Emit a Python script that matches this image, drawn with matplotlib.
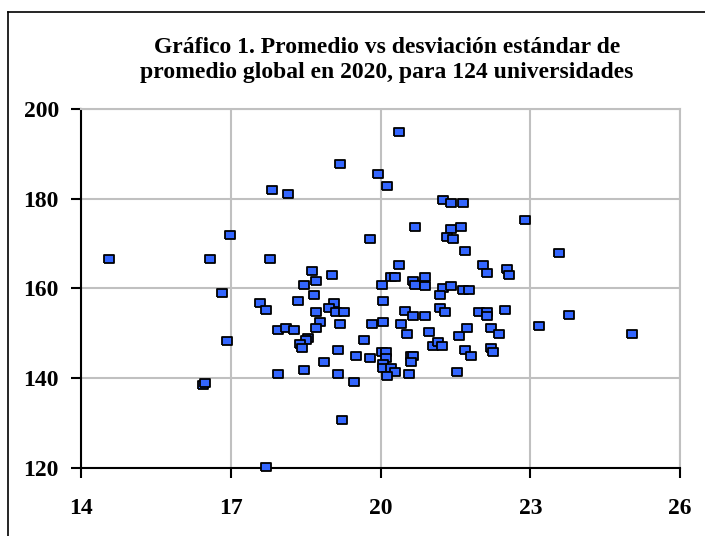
"""Scatter: promedio vs desviacion estandar de promedio global 2020 (124 universidades)."""

import matplotlib

matplotlib.use("Agg")

import matplotlib.pyplot as plt
from matplotlib.lines import Line2D

# values
promedio = [
    14.56, 16.59, 16.99, 17.83, 16.83, 17.59, 17.71, 16.92, 16.45, 16.48,
    17.71, 20.38, 19.18, 19.95, 20.14, 18.15, 21.26, 21.42, 21.66, 20.70,
    21.42, 21.62, 21.34, 21.46, 19.78, 21.70, 17.79, 20.38, 18.62, 19.02,
    18.71, 18.46, 20.03, 20.22, 20.30, 20.66, 20.70, 20.90, 20.90, 21.26,
    21.42, 21.66, 21.78, 22.89, 22.05, 22.14, 22.53, 22.57, 23.57, 21.19,
    18.66, 18.35, 19.07, 18.97, 19.11, 19.27, 18.71, 20.06, 20.50, 20.66,
    20.90, 21.19, 21.30, 21.97, 22.14, 22.14, 22.49, 18.79, 19.18, 19.82,
    20.06, 20.42, 20.98, 20.54, 17.95, 18.11, 18.27, 18.71, 18.55, 18.51,
    18.39, 18.43, 19.66, 19.14, 19.50, 19.79, 18.86, 20.03, 20.11, 20.11,
    20.06, 20.06, 20.22, 20.30, 20.14, 20.62, 20.66, 20.62, 20.58, 21.06,
    21.15, 21.23, 21.58, 21.74, 21.70, 21.81, 21.54, 18.46, 17.95, 19.14,
    19.46, 19.22, 22.21, 22.37, 22.21, 22.26, 23.17, 23.77, 25.04,
]
desviacion = [
    166.5, 166.5, 171.8, 182.0, 159.0, 156.8, 155.1, 148.3, 138.5, 138.8,
    120.1, 194.8, 187.8, 185.6, 182.9, 181.1, 179.8, 179.0, 179.0, 173.7,
    173.2, 173.7, 171.4, 170.9, 170.9, 168.3, 166.5, 165.2, 163.9, 163.0,
    161.6, 160.8, 160.8, 162.5, 162.5, 161.6, 160.8, 162.5, 160.4, 160.0,
    160.4, 159.6, 159.6, 175.3, 165.2, 163.4, 164.3, 163.0, 167.9, 158.6,
    158.6, 157.2, 156.8, 155.6, 154.7, 154.7, 154.7, 157.2, 155.0, 153.7,
    153.7, 155.6, 154.7, 154.7, 154.7, 153.7, 155.1, 152.4, 152.0, 152.0,
    152.4, 152.0, 150.2, 149.7, 150.7, 151.1, 150.7, 151.1, 148.8, 148.4,
    147.5, 146.6, 148.4, 146.3, 144.9, 144.4, 143.6, 145.8, 145.8, 144.4,
    143.1, 142.2, 142.2, 141.4, 140.4, 144.9, 144.9, 143.5, 140.9, 147.2,
    147.9, 147.2, 149.3, 151.1, 146.3, 144.9, 141.4, 141.8, 140.9, 140.9,
    139.1, 130.7, 151.1, 149.7, 146.6, 145.8, 151.5, 154.1, 149.7,
]
x_ticks = [14, 17, 20, 23, 26]
y_ticks = [120, 140, 160, 180, 200]
title = ("Gráfico 1. Promedio vs desviación estándar de\n"
         "promedio global en 2020, para 124 universidades")

plt.rcParams["font.family"] = ["Liberation Serif", "DejaVu Serif"]

fig = plt.figure(figsize=(7.05, 5.36), dpi=100)
ax = fig.add_axes([81 / 705, 68.5 / 536, 599 / 705, 358.5 / 536])

# chart-area frame (only top and left edges are visible in the reference)
fig.add_artist(Line2D([8 / 705, 8 / 705], [0, 1 - 12 / 536], color="black",
                      linewidth=1.2, transform=fig.transFigure))
fig.add_artist(Line2D([8 / 705, 1], [1 - 12 / 536, 1 - 12 / 536], color="black",
                      linewidth=1.2, transform=fig.transFigure))

rect_marker = [(-1.25, -1), (1.25, -1), (1.25, 1), (-1.25, 1), (-1.25, -1)]
ax.scatter(promedio, desviacion, marker=rect_marker, s=46, c="#3366ff",
           edgecolors="black", linewidths=1.3, zorder=3, clip_on=False)

ax.set_xlim(14, 26)
ax.set_ylim(120, 200)
ax.set_xticks(x_ticks)
ax.set_yticks(y_ticks)
ax.grid(True, color="#c0c0c0", linewidth=1.5)
ax.set_axisbelow(True)

for side in ("top", "right"):
    ax.spines[side].set_color("#c0c0c0")
    ax.spines[side].set_linewidth(1.5)
for side in ("left", "bottom"):
    ax.spines[side].set_color("black")
    ax.spines[side].set_linewidth(1.5)

ax.tick_params(axis="both", direction="out", length=7, width=1.5, color="black",
               labelsize=17)
ax.tick_params(axis="x", pad=15)
ax.tick_params(axis="y", pad=9)
for lbl in ax.get_xticklabels() + ax.get_yticklabels():
    lbl.set_fontweight("bold")

fig.text(0.549, 0.888, title, ha="center", va="center", fontsize=17,
         fontweight="bold", linespacing=1.25)

fig.savefig("out.png", dpi=100)
plt.close(fig)
